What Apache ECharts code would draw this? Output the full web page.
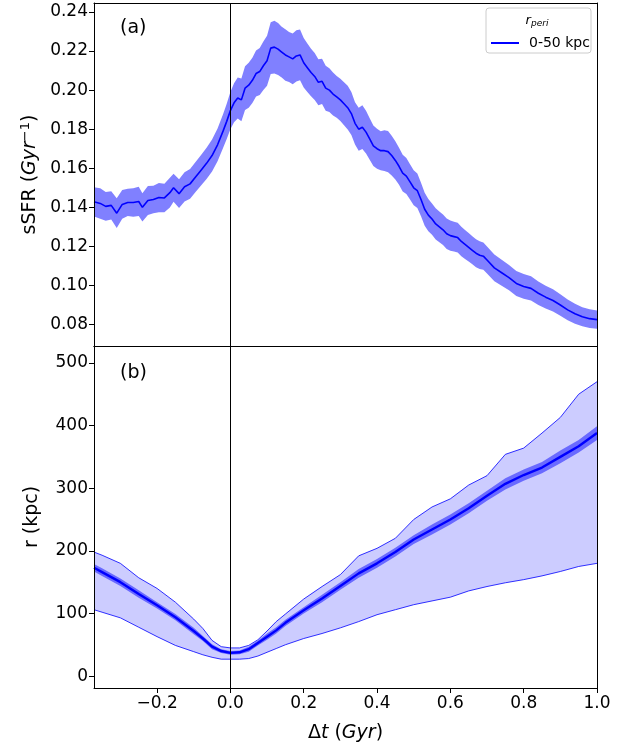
<!DOCTYPE html>
<html>
<head>
<meta charset="utf-8">
<script src="https://cdn.jsdelivr.net/npm/echarts@6/dist/echarts.min.js"></script>
<style>
html, body { margin: 0; padding: 0; background: #fff; }
#chart { width: 637px; height: 748px; }
</style>
</head>
<body>
<div id="chart"></div>
<script>
// panel (a): specific star formation rate around pericentre
var dtTop = [-0.372, -0.355, -0.34, -0.325, -0.31, -0.295, -0.28, -0.265, -0.25, -0.24,
    -0.225, -0.21, -0.195, -0.18, -0.165, -0.155, -0.14, -0.125, -0.11, -0.095,
    -0.08, -0.065, -0.05, -0.035, -0.02, -0.01, 0.0, 0.01, 0.02, 0.03,
    0.04, 0.05, 0.06, 0.07, 0.08, 0.09, 0.10, 0.11, 0.12, 0.13,
    0.14, 0.15, 0.16, 0.17, 0.18, 0.19, 0.20, 0.21, 0.22, 0.23,
    0.24, 0.25, 0.26, 0.27, 0.28, 0.29, 0.30, 0.31, 0.32, 0.33,
    0.34, 0.35, 0.36, 0.37, 0.38, 0.39, 0.40, 0.41, 0.42, 0.43,
    0.44, 0.45, 0.46, 0.47, 0.48, 0.49, 0.50, 0.51, 0.52, 0.53,
    0.54, 0.55, 0.56, 0.57, 0.58, 0.59, 0.60, 0.61, 0.62, 0.63,
    0.64, 0.65, 0.66, 0.67, 0.68, 0.69, 0.70, 0.72, 0.74, 0.76,
    0.78, 0.80, 0.82, 0.84, 0.86, 0.88, 0.90, 0.92, 0.94, 0.96,
    0.98, 1.00];
var ssfrMean = [0.1428, 0.1420, 0.1405, 0.1410, 0.1370, 0.1415, 0.1425, 0.1425, 0.1430, 0.1400,
    0.1435, 0.1440, 0.1450, 0.1448, 0.1475, 0.1500, 0.1470, 0.1505, 0.1520, 0.1555,
    0.1590, 0.1625, 0.1665, 0.1720, 0.1790, 0.1840, 0.1895, 0.1935, 0.1960, 0.1950,
    0.2010, 0.2025, 0.2050, 0.2085, 0.2095, 0.2125, 0.2150, 0.2215, 0.2220, 0.2210,
    0.2195, 0.2180, 0.2170, 0.2160, 0.2175, 0.2180, 0.2140, 0.2115, 0.2090, 0.2070,
    0.2040, 0.2045, 0.2010, 0.2000, 0.1980, 0.1965, 0.1950, 0.1930, 0.1910, 0.1880,
    0.1830, 0.1800, 0.1810, 0.1785, 0.1750, 0.1715, 0.1700, 0.1690, 0.1690, 0.1685,
    0.1665, 0.1640, 0.1610, 0.1575, 0.1560, 0.1530, 0.1500, 0.1485, 0.1440, 0.1390,
    0.1360, 0.1340, 0.1315, 0.1300, 0.1285, 0.1265, 0.1255, 0.1250, 0.1245, 0.1225,
    0.1210, 0.1195, 0.1180, 0.1165, 0.1155, 0.1150, 0.1130, 0.1090, 0.1065, 0.1040,
    0.1010, 0.0995, 0.0985, 0.0960, 0.0940, 0.0923, 0.0900, 0.0875, 0.0855, 0.0840,
    0.0830, 0.0825];
var ssfrErr = [0.0075, 0.0078, 0.0074, 0.0072, 0.0076, 0.0074, 0.0070, 0.0073, 0.0075, 0.0072,
    0.0074, 0.0071, 0.0075, 0.0073, 0.0076, 0.0072, 0.0074, 0.0075, 0.0076, 0.0077,
    0.0078, 0.0080, 0.0082, 0.0084, 0.0086, 0.0090, 0.0095, 0.0100, 0.0105, 0.0110,
    0.0112, 0.0115, 0.0116, 0.0118, 0.0120, 0.0124, 0.0128, 0.0132, 0.0135, 0.0133,
    0.0130, 0.0132, 0.0128, 0.0130, 0.0131, 0.0130, 0.0127, 0.0124, 0.0122, 0.0120,
    0.0118, 0.0116, 0.0115, 0.0112, 0.0110, 0.0107, 0.0108, 0.0110, 0.0112, 0.0110,
    0.0108, 0.0110, 0.0112, 0.0110, 0.0106, 0.0104, 0.0102, 0.0100, 0.0104, 0.0106,
    0.0102, 0.0098, 0.0095, 0.0094, 0.0092, 0.0090, 0.0090, 0.0088, 0.0086, 0.0084,
    0.0082, 0.0080, 0.0080, 0.0079, 0.0078, 0.0078, 0.0077, 0.0076, 0.0076, 0.0075,
    0.0074, 0.0073, 0.0072, 0.0072, 0.0071, 0.0070, 0.0069, 0.0068, 0.0066, 0.0065,
    0.0064, 0.0063, 0.0062, 0.0060, 0.0058, 0.0057, 0.0055, 0.0053, 0.0051, 0.0049,
    0.0048, 0.0047];

// panel (b): orbital radius
var dtR = [-0.372, -0.35, -0.3, -0.25, -0.2, -0.15, -0.1, -0.075, -0.05, -0.025,
    0, 0.025, 0.05, 0.075, 0.1, 0.125, 0.15, 0.2,
    0.25, 0.3, 0.35, 0.4, 0.45, 0.5, 0.55, 0.6, 0.65, 0.7, 0.75, 0.8, 0.85, 0.9, 0.95, 1.0];
var rMean = [173, 166, 150, 131, 113, 94, 72, 60, 47, 40,
    37, 38, 43, 53, 63, 73, 85, 105,
    124, 144, 164, 180, 198, 218, 234, 250, 268, 288, 307, 321, 333, 350, 367, 388];
var rErr = [6, 6, 6, 6, 5, 5, 5, 4, 4, 3,
    3, 3, 4, 4, 5, 5, 5, 5,
    6, 6, 7, 7, 7, 7, 8, 8, 8, 8, 9, 9, 9, 10, 10, 11];
var rHigh = [198, 193, 180, 157, 140, 118, 91, 76, 57, 47,
    45, 45, 49, 58, 72, 87, 99, 123,
    143, 162, 192, 204, 220, 250, 270, 283, 305, 320, 354, 364, 388, 413, 450, 470];
var rLow = [106, 102, 93, 78, 63, 49, 39, 34, 30, 27,
    27, 27, 28, 32, 38, 44, 50, 60,
    68, 77, 87, 98, 106, 114, 120, 126, 136, 143, 149, 154, 160, 167, 175, 180];

var dtTicks = [-0.2, 0.0, 0.2, 0.4, 0.6, 0.8, 1.0];
var ssfrTicks = [0.08, 0.10, 0.12, 0.14, 0.16, 0.18, 0.20, 0.22, 0.24];
var rTicks = [0, 100, 200, 300, 400, 500];

var FONT = 'DejaVu Sans';
var BLUE = '#0000ff';

function pairs(xs, ys) {
    var out = [];
    for (var i = 0; i < xs.length; i++) {
        out.push([xs[i], ys[i]]);
    }
    return out;
}

// shaded band between lo and hi, drawn as one polygon through the axes' scales
function bandSeries(axisIndex, xs, lo, hi, fill, edge) {
    var data = [];
    for (var i = 0; i < xs.length; i++) {
        data.push([xs[i], lo[i], hi[i]]);
    }
    var n = data.length;
    return {
        type: 'custom', xAxisIndex: axisIndex, yAxisIndex: axisIndex,
        silent: true, clip: true,
        encode: {x: 0, y: [1, 2]},
        data: data,
        renderItem: function (params, api) {
            if (params.dataIndex !== 0) {
                return;
            }
            var top = [], bottom = [];
            for (var k = 0; k < n; k++) {
                top.push(api.coord([api.value(0, k), api.value(2, k)]));
                bottom.push(api.coord([api.value(0, k), api.value(1, k)]));
            }
            var children = [{
                type: 'polygon',
                shape: {points: top.concat(bottom.slice().reverse())},
                style: {fill: fill, stroke: null}
            }];
            if (edge) {
                children.push({type: 'polyline', shape: {points: top}, style: {fill: null, stroke: edge, lineWidth: 0.8}});
                children.push({type: 'polyline', shape: {points: bottom}, style: {fill: null, stroke: edge, lineWidth: 0.8}});
            }
            return {type: 'group', children: children};
        }
    };
}

function minus(a, b) {
    var out = [];
    for (var i = 0; i < a.length; i++) out.push(a[i] - b[i]);
    return out;
}

function plus(a, b) {
    var out = [];
    for (var i = 0; i < a.length; i++) out.push(a[i] + b[i]);
    return out;
}

var blackLine = {show: true, onZero: false, lineStyle: {color: '#000', width: 1}};

function frameAxis(grid, pos, min, max) {
    return {
        gridIndex: grid, type: 'value', position: pos, z: 5, min: min, max: max,
        axisLine: blackLine, axisTick: {show: false}, axisLabel: {show: false},
        splitLine: {show: false}
    };
}

var vline = {
    silent: true, symbol: ['none', 'none'], animation: false,
    label: {show: false},
    lineStyle: {color: '#000', width: 1, type: 'solid'},
    data: [{xAxis: 0}]
};

var XMIN = -0.372, XMAX = 1.0;

var chart = echarts.init(document.getElementById('chart'));

var option = {
    animation: false,
    backgroundColor: '#fff',
    grid: [
        {left: 94, right: 40, top: 3, height: 343},
        {left: 94, right: 40, top: 346, height: 342}
    ],
    xAxis: [
        frameAxis(0, 'bottom', XMIN, XMAX),
        {
            gridIndex: 1, type: 'value', position: 'bottom', min: XMIN, max: XMAX, z: 5,
            axisLine: blackLine, axisTick: {show: true, length: 5, lineStyle: {color: '#000'}, customValues: dtTicks},
            axisLabel: {
                color: '#000', fontFamily: FONT, fontSize: 17, margin: 7,
                customValues: dtTicks,
                formatter: function (v) { return v.toFixed(1).replace('-', '\u2212'); }
            },
            splitLine: {show: false},
            name: '{n|\u0394}{i|t}{n| (}{i|Gyr}{n|)}',
            nameLocation: 'middle', nameGap: 36,
            nameTextStyle: {
                color: '#000', fontFamily: FONT, fontSize: 19,
                rich: {
                    n: {fontFamily: FONT, fontSize: 19, color: '#000'},
                    i: {fontFamily: FONT, fontSize: 19, fontStyle: 'italic', color: '#000'}
                }
            }
        },
        frameAxis(0, 'top', XMIN, XMAX),
        frameAxis(1, 'top', XMIN, XMAX)
    ],
    yAxis: [
        {
            gridIndex: 0, type: 'value', min: 0.069, max: 0.2446, z: 5,
            axisLine: blackLine,
            axisTick: {show: true, length: 5, lineStyle: {color: '#000'}, customValues: ssfrTicks},
            axisLabel: {
                color: '#000', fontFamily: FONT, fontSize: 17, margin: 6,
                customValues: ssfrTicks,
                formatter: function (v) { return v.toFixed(2); }
            },
            splitLine: {show: false},
            name: '{n|sSFR (}{i|Gyr}{s|\u22121}{n|)}',
            nameLocation: 'middle', nameRotate: 90, nameGap: 52,
            nameTextStyle: {
                color: '#000', fontFamily: FONT, fontSize: 19,
                rich: {
                    n: {fontFamily: FONT, fontSize: 19, color: '#000'},
                    i: {fontFamily: FONT, fontSize: 19, fontStyle: 'italic', color: '#000'},
                    s: {fontFamily: FONT, fontSize: 13, color: '#000', verticalAlign: 'top', padding: [0, 0, 9, 0]}
                }
            }
        },
        {
            gridIndex: 1, type: 'value', min: -19, max: 527, z: 5,
            axisLine: blackLine,
            axisTick: {show: true, length: 5, lineStyle: {color: '#000'}, customValues: rTicks},
            axisLabel: {
                color: '#000', fontFamily: FONT, fontSize: 17, margin: 6,
                customValues: rTicks
            },
            splitLine: {show: false},
            name: 'r (kpc)',
            nameLocation: 'middle', nameRotate: 90, nameGap: 52,
            nameTextStyle: {color: '#000', fontFamily: FONT, fontSize: 19}
        },
        frameAxis(0, 'right', 0.069, 0.2446),
        frameAxis(1, 'right', -19, 527)
    ],
    legend: {
        data: [{name: '0-50 kpc', icon: 'rect'}],
        left: 491, top: 36, padding: 0,
        itemWidth: 28, itemHeight: 2,
        itemStyle: {color: BLUE},
        textStyle: {color: '#000', fontFamily: FONT, fontSize: 14, padding: [0, 0, 0, 5]}
    },
    graphic: [
        {
            type: 'rect', z: 3,
            shape: {x: 486, y: 8, width: 105, height: 45, r: 3},
            style: {fill: 'rgba(255,255,255,0.8)', stroke: '#cccccc', lineWidth: 1}
        },
        {
            type: 'text', z: 4, x: 537, y: 21,
            style: {
                text: '{r|r}{p|peri}', align: 'center', verticalAlign: 'middle',
                rich: {
                    r: {fontFamily: FONT, fontSize: 13, fontStyle: 'italic', fill: '#000'},
                    p: {fontFamily: FONT, fontSize: 9, fontStyle: 'italic', fill: '#000', verticalAlign: 'bottom', padding: [6, 0, 0, 0]}
                }
            }
        },
        {
            type: 'text', z: 4, x: 120, y: 28,
            style: {text: '(a)', fontFamily: FONT, fontSize: 19, fill: '#000', verticalAlign: 'middle'}
        },
        {
            type: 'text', z: 4, x: 120, y: 373,
            style: {text: '(b)', fontFamily: FONT, fontSize: 19, fill: '#000', verticalAlign: 'middle'}
        }
    ],
    series: [
        bandSeries(0, dtTop, minus(ssfrMean, ssfrErr), plus(ssfrMean, ssfrErr), '#8080ff', null),
        {
            name: '0-50 kpc', type: 'line', xAxisIndex: 0, yAxisIndex: 0,
            symbol: 'none', color: BLUE, lineStyle: {color: BLUE, width: 1.6},
            markLine: vline,
            data: pairs(dtTop, ssfrMean)
        },
        bandSeries(1, dtR, rLow, rHigh, '#ccccff', BLUE),
        bandSeries(1, dtR, minus(rMean, rErr), plus(rMean, rErr), '#6a6aff', null),
        {
            name: 'rMean', type: 'line', xAxisIndex: 1, yAxisIndex: 1,
            symbol: 'none', lineStyle: {color: BLUE, width: 2.4},
            markLine: vline,
            data: pairs(dtR, rMean)
        }
    ]
};

chart.setOption(option);
</script>
</body>
</html>
